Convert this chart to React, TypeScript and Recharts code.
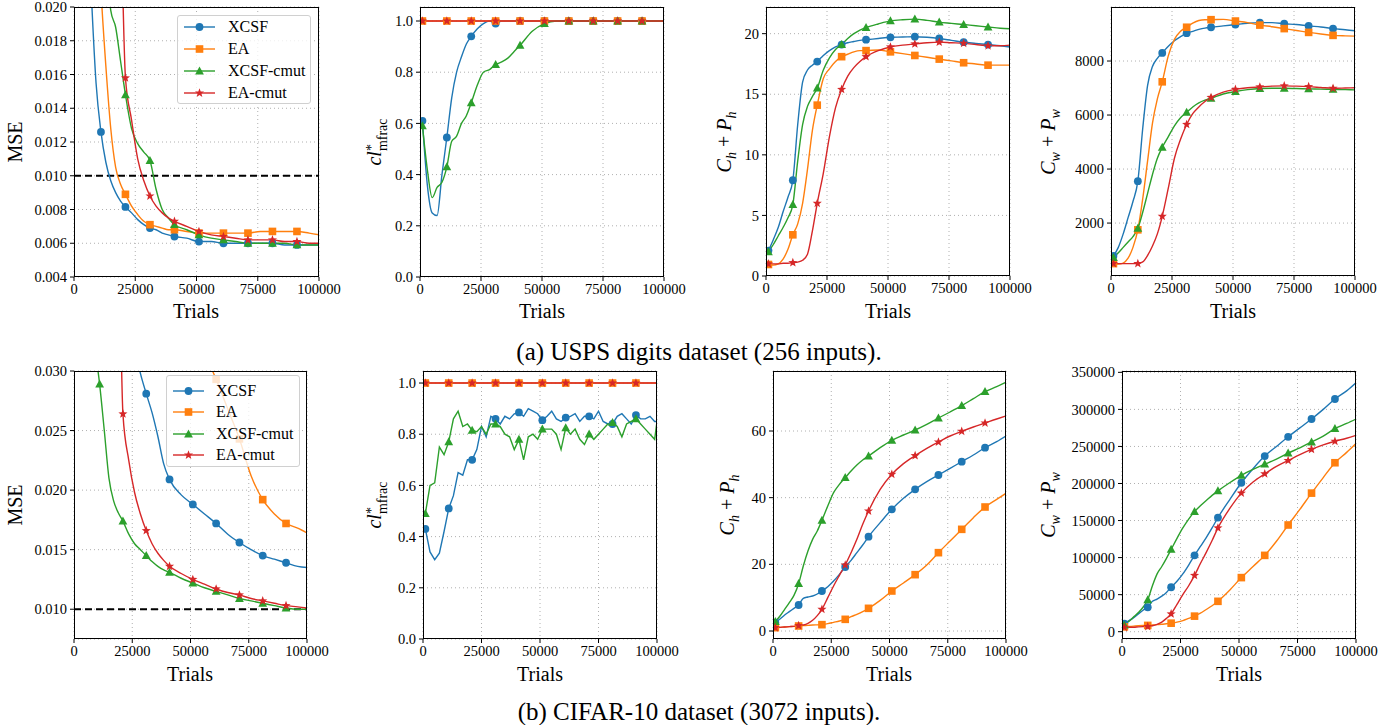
import React from 'react';
import { LineChart, Line, XAxis, YAxis, CartesianGrid, ReferenceLine } from 'recharts';

const SERIF = '"Liberation Serif", "DejaVu Serif", serif';
const C_XCSF = '#1f77b4';
const C_EA = '#ff7f0e';
const C_XCMUT = '#2ca02c';
const C_EACMUT = '#d62728';

// trial grids (x values)
const trials = [1000, 3000, 5000, 7000, 9000, 11000, 13000, 15000, 17000, 19000, 21000, 23500, 26000, 28500, 31000, 33500, 36000, 38500, 41000, 46000, 51000, 56000, 61000, 66000, 71000, 76000, 81000, 86000, 91000, 96000, 100000];
const trialsFine = [1000, 3000, 5000, 7000, 9000, 11000, 13000, 15000, 17000, 19000, 21000, 23000, 25000, 27000, 29000, 31000, 33000, 35000, 37000, 39000, 41000, 43000, 45000, 47000, 49000, 51000, 53000, 55000, 57000, 59000, 61000, 63000, 65000, 67000, 69000, 71000, 73000, 75000, 77000, 79000, 81000, 83000, 85000, 87000, 89000, 91000, 93000, 95000, 97000, 99000, 100000];
const trialsMarked = [1000, 11000, 21000, 31000, 41000, 51000, 61000, 71000, 81000, 91000, 100000];
const markerTrials = [1000, 11000, 21000, 31000, 41000, 51000, 61000, 71000, 81000, 91000];
const xTicks = [0, 25000, 50000, 75000, 100000];

// (a) USPS - MSE
const uspsMseXcsf = [0.06, 0.04, 0.028, 0.021, 0.0155, 0.0126, 0.0108, 0.0097, 0.009, 0.0085, 0.00815, 0.0078, 0.0074, 0.0071, 0.0069, 0.0068, 0.0066, 0.0065, 0.0064, 0.0063, 0.0061, 0.0061, 0.006, 0.006, 0.006, 0.006, 0.006, 0.0059, 0.0059, 0.0059, 0.0059];
const uspsMseEa = [0.08, 0.06, 0.045, 0.035, 0.027, 0.021, 0.0165, 0.0128, 0.0105, 0.0095, 0.0089, 0.0082, 0.0077, 0.0073, 0.0071, 0.007, 0.0069, 0.0068, 0.0068, 0.0067, 0.0066, 0.0066, 0.0066, 0.0066, 0.0066, 0.0067, 0.0067, 0.0067, 0.0067, 0.0066, 0.0065];
const uspsMseXcmut = [0.1, 0.08, 0.06, 0.045, 0.035, 0.028, 0.023, 0.0198, 0.0188, 0.0168, 0.0148, 0.0128, 0.0119, 0.0114, 0.0109, 0.0092, 0.008, 0.0075, 0.0071, 0.0068, 0.0065, 0.0063, 0.0062, 0.0061, 0.006, 0.006, 0.006, 0.006, 0.0059, 0.0059, 0.0059];
const uspsMseEacmut = [0.12, 0.1, 0.08, 0.065, 0.05, 0.04, 0.036, 0.034, 0.032, 0.026, 0.0158, 0.0133, 0.011, 0.0097, 0.0088, 0.0082, 0.0078, 0.0075, 0.0073, 0.007, 0.0067, 0.0065, 0.0064, 0.0063, 0.0062, 0.0062, 0.0062, 0.0061, 0.0061, 0.006, 0.006];

// (a) USPS - cl*_mfrac
const uspsFracXcsf = [0.61, 0.36, 0.25, 0.24, 0.4, 0.545, 0.7, 0.8, 0.86, 0.91, 0.94, 0.97, 0.99, 1.0, 0.99, 1.0, 1.0, 1.0, 1.0, 1.0, 1.0, 1.0, 1.0, 1.0, 1.0, 1.0, 1.0, 1.0, 1.0, 1.0, 1.0];
const uspsFracXcmut = [0.59, 0.42, 0.31, 0.35, 0.37, 0.43, 0.53, 0.55, 0.6, 0.63, 0.68, 0.75, 0.8, 0.81, 0.83, 0.84, 0.855, 0.88, 0.905, 0.96, 0.99, 1.0, 1.0, 1.0, 1.0, 1.0, 1.0, 1.0, 1.0, 1.0, 1.0];
const uspsFracEa = [1.0, 1.0, 1.0, 1.0, 1.0, 1.0, 1.0, 1.0, 1.0, 1.0, 1.0];
const uspsFracEacmut = [1.0, 1.0, 1.0, 1.0, 1.0, 1.0, 1.0, 1.0, 1.0, 1.0, 1.0];

// (a) USPS - C_h + P_h
const uspsHXcsf = [2.1, 3.0, 4.0, 5.3, 6.5, 7.9, 12.5, 16.0, 17.0, 17.4, 17.7, 18.2, 18.6, 18.9, 19.1, 19.25, 19.35, 19.45, 19.5, 19.6, 19.7, 19.72, 19.75, 19.7, 19.6, 19.45, 19.3, 19.2, 19.1, 19.0, 18.9];
const uspsHEa = [0.95, 0.9, 1.0, 1.4, 2.2, 3.4, 4.3, 6.0, 8.8, 12.0, 14.1, 16.3, 17.1, 17.7, 18.1, 18.3, 18.5, 18.6, 18.6, 18.65, 18.5, 18.35, 18.2, 18.05, 17.9, 17.75, 17.6, 17.5, 17.4, 17.4, 17.4];
const uspsHXcmut = [2.0, 2.6, 3.3, 4.0, 4.8, 5.9, 9.5, 12.5, 14.0, 14.8, 15.5, 17.0, 18.0, 18.7, 19.1, 19.6, 20.0, 20.3, 20.5, 20.8, 21.05, 21.15, 21.2, 21.1, 20.95, 20.85, 20.75, 20.65, 20.55, 20.45, 20.4];
const uspsHEacmut = [1.0, 1.0, 1.0, 1.05, 1.05, 1.1, 1.15, 1.3, 1.8, 3.7, 6.0, 8.5, 11.5, 13.9, 15.4, 16.5, 17.2, 17.7, 18.1, 18.6, 18.9, 19.05, 19.15, 19.25, 19.3, 19.25, 19.2, 19.1, 19.0, 19.0, 19.05];

// (a) USPS - C_w + P_w
const uspsWXcsf = [780, 1100, 1600, 2200, 2800, 3550, 5500, 7100, 7800, 8100, 8300, 8550, 8750, 8900, 9030, 9100, 9170, 9220, 9250, 9300, 9350, 9400, 9420, 9420, 9380, 9350, 9300, 9260, 9200, 9160, 9120];
const uspsWEa = [500, 480, 520, 700, 1100, 1750, 2900, 4300, 5700, 6600, 7230, 8200, 8800, 9100, 9250, 9400, 9500, 9530, 9530, 9540, 9480, 9420, 9330, 9270, 9200, 9130, 9060, 9000, 8950, 8930, 8920];
const uspsWXcmut = [720, 900, 1100, 1300, 1500, 1800, 2400, 3100, 3800, 4400, 4800, 5200, 5600, 5900, 6100, 6300, 6450, 6550, 6620, 6780, 6870, 6940, 6980, 6990, 6990, 6980, 6970, 6960, 6950, 6940, 6930];
const uspsWEacmut = [500, 500, 500, 500, 500, 500, 560, 800, 1150, 1600, 2250, 3300, 4400, 5100, 5650, 6050, 6300, 6500, 6650, 6850, 6950, 7010, 7040, 7070, 7080, 7070, 7050, 7020, 6990, 7000, 7010];

// (b) CIFAR-10 - MSE
const cifarMseXcsf = [0.09, 0.08, 0.07, 0.062, 0.055, 0.05, 0.046, 0.043, 0.04, 0.038, 0.036, 0.034, 0.032, 0.0298, 0.0281, 0.0265, 0.0245, 0.0222, 0.0209, 0.0196, 0.0188, 0.018, 0.0172, 0.0163, 0.0156, 0.015, 0.0145, 0.0142, 0.0139, 0.0136, 0.0135];
const cifarMseEa = [0.12, 0.11, 0.1, 0.095, 0.09, 0.085, 0.08, 0.075, 0.07, 0.066, 0.062, 0.057, 0.053, 0.05, 0.047, 0.044, 0.042, 0.04, 0.038, 0.035, 0.0335, 0.0315, 0.0293, 0.0268, 0.0243, 0.0212, 0.0192, 0.018, 0.0172, 0.0168, 0.0164];
const cifarMseXcmut = [0.06, 0.05, 0.042, 0.036, 0.032, 0.0289, 0.025, 0.021, 0.0191, 0.0181, 0.0174, 0.0163, 0.0155, 0.015, 0.0145, 0.014, 0.0136, 0.0133, 0.0131, 0.0126, 0.0122, 0.0118, 0.0115, 0.0112, 0.0109, 0.0107, 0.0105, 0.0103, 0.0101, 0.01, 0.01];
const cifarMseEacmut = [0.15, 0.13, 0.11, 0.09, 0.075, 0.068, 0.064, 0.062, 0.06, 0.045, 0.0264, 0.0225, 0.0198, 0.018, 0.0166, 0.0155, 0.0147, 0.0141, 0.0136, 0.013, 0.0125, 0.0121, 0.0117, 0.0114, 0.0112, 0.0109, 0.0107, 0.0105, 0.0103, 0.0102, 0.0101];

// (b) CIFAR-10 - cl*_mfrac
const cifarFracXcsf = [0.43, 0.34, 0.31, 0.335, 0.42, 0.51, 0.56, 0.65, 0.64, 0.7, 0.7, 0.74, 0.83, 0.79, 0.87, 0.86, 0.84, 0.87, 0.86, 0.88, 0.885, 0.87, 0.9, 0.89, 0.88, 0.855, 0.87, 0.89, 0.86, 0.85, 0.865, 0.87, 0.88, 0.85, 0.87, 0.87, 0.86, 0.89, 0.85, 0.84, 0.84, 0.87, 0.88, 0.86, 0.84, 0.875, 0.86, 0.86, 0.87, 0.85, 0.85];
const cifarFracXcmut = [0.49, 0.6, 0.61, 0.75, 0.72, 0.77, 0.86, 0.89, 0.83, 0.84, 0.815, 0.81, 0.83, 0.8, 0.84, 0.84, 0.83, 0.8, 0.79, 0.74, 0.78, 0.7, 0.79, 0.8, 0.78, 0.82, 0.82, 0.82, 0.8, 0.74, 0.825, 0.8, 0.82, 0.78, 0.76, 0.8, 0.78, 0.8, 0.82, 0.84, 0.845, 0.83, 0.79, 0.84, 0.85, 0.86, 0.84, 0.82, 0.8, 0.78, 0.85];
const cifarFracEa = [1.0, 1.0, 1.0, 1.0, 1.0, 1.0, 1.0, 1.0, 1.0, 1.0, 1.0];
const cifarFracEacmut = [1.0, 1.0, 1.0, 1.0, 1.0, 1.0, 1.0, 1.0, 1.0, 1.0, 1.0];

// (b) CIFAR-10 - C_h + P_h
const cifarHXcsf = [2.5, 3.6, 4.8, 5.8, 6.8, 7.8, 9.8, 10.2, 10.5, 11.1, 12.0, 13.3, 15.0, 17.0, 19.2, 21.2, 23.5, 25.8, 28.3, 32.5, 36.5, 39.8, 42.5, 44.8, 46.8, 48.8, 50.8, 52.8, 55.0, 56.8, 58.5];
const cifarHEa = [1.0, 1.1, 1.2, 1.3, 1.4, 1.5, 1.6, 1.7, 1.8, 1.85, 1.9, 2.2, 2.6, 3.0, 3.5, 4.3, 5.0, 5.8, 6.8, 9.2, 12.0, 14.4, 16.9, 19.8, 23.5, 27.0, 30.5, 34.0, 37.2, 39.5, 41.3];
const cifarHXcmut = [2.8, 4.5, 6.5, 8.5, 10.7, 14.2, 19.5, 24.0, 27.5, 30.0, 33.2, 37.5, 41.5, 44.0, 46.0, 48.0, 49.8, 51.3, 52.5, 55.0, 57.2, 58.8, 60.3, 62.0, 63.9, 65.7, 67.6, 69.7, 71.8, 73.3, 74.6];
const cifarHEacmut = [1.0, 1.1, 1.2, 1.3, 1.4, 1.6, 1.8, 2.3, 3.2, 4.6, 6.5, 10.0, 13.5, 16.7, 19.8, 23.5, 27.5, 32.0, 36.0, 42.5, 47.0, 50.2, 52.6, 54.8, 56.7, 58.5, 59.9, 61.2, 62.4, 63.6, 64.5];

// (b) CIFAR-10 - C_w + P_w
const cifarWXcsf = [11000, 15000, 19000, 24000, 29000, 33000, 41000, 44000, 48000, 53000, 60000, 68000, 78000, 90000, 103000, 115000, 127000, 140000, 154000, 178000, 201000, 220000, 237000, 250000, 263000, 275000, 287000, 300000, 314000, 325000, 336000];
const cifarWEa = [6500, 7000, 7500, 8000, 8300, 8500, 9000, 9500, 10000, 10800, 11500, 13000, 15000, 18000, 21000, 25000, 30000, 35000, 41000, 56000, 73000, 88000, 103000, 122000, 144000, 165000, 187000, 208000, 228000, 242000, 254000];
const cifarWXcmut = [9000, 14000, 20000, 26000, 33000, 43000, 62000, 78000, 88000, 99000, 111000, 126000, 140000, 152000, 162000, 170000, 177000, 184000, 190000, 201000, 211000, 219000, 226000, 233000, 241000, 248000, 256000, 264000, 274000, 281000, 287000];
const cifarWEacmut = [6000, 6000, 6000, 6500, 6800, 7000, 8000, 10000, 13000, 18000, 24000, 37000, 50000, 62000, 76000, 92000, 107000, 123000, 140000, 166000, 187000, 202000, 213000, 223000, 231000, 239000, 246000, 252000, 257000, 261000, 265000];

type Shape = 'circle' | 'square' | 'triangle' | 'star';

interface Series {
  name: string;
  color: string;
  shape: Shape;
  xs: number[];
  ys: number[];
  curve?: 'monotone' | 'linear';
}

const starPath = (cx: number, cy: number, ro: number, ri: number) => {
  const pts: string[] = [];
  for (let i = 0; i < 10; i++) {
    const r = i % 2 === 0 ? ro : ri;
    const a = -Math.PI / 2 + (i * Math.PI) / 5;
    pts.push(`${cx + r * Math.cos(a)},${cy + r * Math.sin(a)}`);
  }
  return pts.join(' ');
};

const Marker = ({ cx, cy, shape, color }: { cx: number; cy: number; shape: Shape; color: string }) => {
  if (shape === 'circle') return <circle cx={cx} cy={cy} r={3.9} fill={color} />;
  if (shape === 'square') return <rect x={cx - 3.8} y={cy - 3.8} width={7.6} height={7.6} fill={color} />;
  if (shape === 'triangle')
    return <polygon points={`${cx},${cy - 4.6} ${cx - 4.4},${cy + 3.4} ${cx + 4.4},${cy + 3.4}`} fill={color} />;
  return <polygon points={starPath(cx, cy, 4.8, 2.0)} fill={color} />;
};

const tickStyle = { fill: '#000', fontSize: 14.5, fontFamily: SERIF };

interface PanelProps {
  x: number;
  y: number;
  w: number;
  h: number;
  domain: [number, number];
  ticks: number[];
  fmt: (v: number) => string;
  series: Series[];
  refY?: number;
}

const Panel = ({ x, y, w, h, domain, ticks, fmt, series, refY }: PanelProps) => {
  const L = 66, T = 12, R = 32, B = 36;
  const makeDot = (s: Series) => (props: any) => {
    const { cx, cy, payload, index } = props;
    const key = `${s.name}-${index}`;
    if (cx == null || cy == null || !markerTrials.includes(payload.t) || payload.v < domain[0] || payload.v > domain[1]) {
      return <g key={key} />;
    }
    return (
      <g key={key}>
        <Marker cx={cx} cy={cy} shape={s.shape} color={s.color} />
      </g>
    );
  };
  return (
    <div style={{ position: 'absolute', left: x - L, top: y - T }}>
      <LineChart width={w + L + R} height={h + T + B} margin={{ top: T, right: R, left: 0, bottom: 0 }}>
        <CartesianGrid stroke="#b0b0b0" strokeDasharray="1 3" />
        <XAxis
          type="number"
          dataKey="t"
          domain={[0, 100000]}
          ticks={xTicks}
          allowDataOverflow
          interval={0}
          height={B}
          axisLine={false}
          tickLine={{ stroke: '#000' }}
          tickSize={4}
          tickMargin={3}
          tick={tickStyle}
        />
        <YAxis
          type="number"
          domain={domain}
          ticks={ticks}
          allowDataOverflow
          interval={0}
          width={L}
          axisLine={false}
          tickLine={{ stroke: '#000' }}
          tickSize={4}
          tickMargin={3}
          tick={tickStyle}
          tickFormatter={fmt}
        />
        {refY !== undefined && <ReferenceLine y={refY} stroke="#000" strokeWidth={2} strokeDasharray="7 4" />}
        {series.map((s) => (
          <Line
            key={s.name}
            data={s.xs.map((t, i) => ({ t, v: s.ys[i] }))}
            dataKey="v"
            type={s.curve ?? 'monotone'}
            stroke={s.color}
            strokeWidth={1.4}
            dot={makeDot(s)}
            activeDot={false}
            isAnimationActive={false}
          />
        ))}
      </LineChart>
      <div
        style={{
          position: 'absolute',
          left: L,
          top: T,
          width: w,
          height: h,
          border: '1px solid #000',
          boxSizing: 'border-box',
          pointerEvents: 'none',
        }}
      />
    </div>
  );
};

const mk = (xs: number[], a: number[], b: number[], c: number[], d: number[], xsEa?: number[], curve?: 'monotone' | 'linear'): Series[] => [
  { name: 'XCSF', color: C_XCSF, shape: 'circle', xs, ys: a, curve },
  { name: 'EA', color: C_EA, shape: 'square', xs: xsEa ?? xs, ys: b, curve },
  { name: 'XCSF-cmut', color: C_XCMUT, shape: 'triangle', xs, ys: c, curve },
  { name: 'EA-cmut', color: C_EACMUT, shape: 'star', xs: xsEa ?? xs, ys: d, curve },
];

const legendItems: { name: string; color: string; shape: Shape }[] = [
  { name: 'XCSF', color: C_XCSF, shape: 'circle' },
  { name: 'EA', color: C_EA, shape: 'square' },
  { name: 'XCSF-cmut', color: C_XCMUT, shape: 'triangle' },
  { name: 'EA-cmut', color: C_EACMUT, shape: 'star' },
];

const LegendBox = ({ left, top, width, height, rowH, padTop, textX }: { left: number; top: number; width: number; height: number; rowH: number; padTop: number; textX: number }) => (
  <div
    style={{
      position: 'absolute',
      left,
      top,
      width,
      height,
      boxSizing: 'border-box',
      border: '1px solid #d0d0d0',
      borderRadius: 3,
      background: 'rgba(255,255,255,0.8)',
      paddingTop: padTop,
      fontFamily: SERIF,
      fontSize: 16,
    }}
  >
    {legendItems.map((it) => (
      <div key={it.name} style={{ position: 'relative', height: rowH }}>
        <svg width={31} height={14} style={{ position: 'absolute', left: 6, top: rowH / 2 - 7 }}>
          <line x1={0} y1={7} x2={31} y2={7} stroke={it.color} strokeWidth={1.4} />
          <Marker cx={15.5} cy={7} shape={it.shape} color={it.color} />
        </svg>
        <span style={{ position: 'absolute', left: textX, top: rowH / 2, transform: 'translateY(-50%)', whiteSpace: 'nowrap', lineHeight: 1 }}>
          {it.name}
        </span>
      </div>
    ))}
  </div>
);

const YLabel = ({ cx, cy, children }: { cx: number; cy: number; children: React.ReactNode }) => (
  <div
    style={{
      position: 'absolute',
      left: cx,
      top: cy,
      transform: 'translate(-50%, -50%) rotate(-90deg)',
      whiteSpace: 'nowrap',
      fontFamily: SERIF,
      fontSize: 20,
      lineHeight: 1,
    }}
  >
    {children}
  </div>
);

const XLabel = ({ cx, cy }: { cx: number; cy: number }) => (
  <div style={{ position: 'absolute', left: cx, top: cy, transform: 'translate(-50%, -50%)', fontFamily: SERIF, fontSize: 20, lineHeight: 1 }}>
    Trials
  </div>
);

const FracLabel = () => (
  <span>
    <i>cl</i>
    <span style={{ display: 'inline-block', verticalAlign: '-0.45em', lineHeight: 0.8, fontSize: '0.7em', textAlign: 'left' }}>
      <span style={{ display: 'block' }}>*</span>
      <span style={{ display: 'block' }}>mfrac</span>
    </span>
  </span>
);

const SumLabel = ({ s }: { s: string }) => (
  <span>
    <i>C</i>
    <sub style={{ fontSize: '0.7em' }}>
      <i>{s}</i>
    </sub>
    {' + '}
    <i>P</i>
    <sub style={{ fontSize: '0.7em' }}>
      <i>{s}</i>
    </sub>
  </span>
);

const f3 = (v: number) => v.toFixed(3);
const f1 = (v: number) => v.toFixed(1);
const f0 = (v: number) => String(v);

const captionStyle: React.CSSProperties = {
  position: 'absolute',
  left: 699,
  transform: 'translate(-50%, -50%)',
  fontFamily: '"Liberation Serif", serif',
  fontSize: 25,
  whiteSpace: 'nowrap',
  lineHeight: 1,
};

const App = () => {
  return (
    <div style={{ position: 'absolute', left: 0, top: 0, width: 1398, height: 725, background: '#fff', overflow: 'hidden' }}>
      {/* row (a) */}
      <Panel x={74} y={7} w={245} h={270} domain={[0.004, 0.02]} ticks={[0.004, 0.006, 0.008, 0.01, 0.012, 0.014, 0.016, 0.018, 0.02]} fmt={f3}
        series={mk(trials, uspsMseXcsf, uspsMseEa, uspsMseXcmut, uspsMseEacmut)} refY={0.01} />
      <Panel x={420} y={7} w={244} h={270} domain={[0, 1.0547]} ticks={[0, 0.2, 0.4, 0.6, 0.8, 1.0]} fmt={f1}
        series={mk(trials, uspsFracXcsf, uspsFracEa, uspsFracXcmut, uspsFracEacmut, trialsMarked)} />
      <Panel x={766} y={7} w={244} h={269} domain={[0, 22.2]} ticks={[0, 5, 10, 15, 20]} fmt={f0}
        series={mk(trials, uspsHXcsf, uspsHEa, uspsHXcmut, uspsHEacmut)} />
      <Panel x={1111} y={7} w={244} h={269} domain={[40, 10000]} ticks={[2000, 4000, 6000, 8000]} fmt={f0}
        series={mk(trials, uspsWXcsf, uspsWEa, uspsWXcmut, uspsWEacmut)} />

      {/* row (b) */}
      <Panel x={74} y={371} w={233} h={268} domain={[0.0075, 0.03]} ticks={[0.01, 0.015, 0.02, 0.025, 0.03]} fmt={f3}
        series={mk(trials, cifarMseXcsf, cifarMseEa, cifarMseXcmut, cifarMseEacmut)} refY={0.01} />
      <Panel x={423} y={371} w={234} h={268} domain={[0, 1.047]} ticks={[0, 0.2, 0.4, 0.6, 0.8, 1.0]} fmt={f1}
        series={mk(trialsFine, cifarFracXcsf, cifarFracEa, cifarFracXcmut, cifarFracEacmut, trialsMarked, 'linear')} />
      <Panel x={773} y={371} w={233} h={268} domain={[-2.4, 78]} ticks={[0, 20, 40, 60]} fmt={f0}
        series={mk(trials, cifarHXcsf, cifarHEa, cifarHXcmut, cifarHEacmut)} />
      <Panel x={1122} y={371} w={234} h={268} domain={[-9850, 351800]} ticks={[0, 50000, 100000, 150000, 200000, 250000, 300000, 350000]} fmt={f0}
        series={mk(trials, cifarWXcsf, cifarWEa, cifarWXcmut, cifarWEacmut)} />

      <LegendBox left={177} top={15} width={134} height={89} rowH={22} padTop={0} textX={50} />
      <LegendBox left={166} top={375} width={134} height={92} rowH={21.5} padTop={4} textX={49} />

      <YLabel cx={15} cy={142}>MSE</YLabel>
      <YLabel cx={376} cy={142}><FracLabel /></YLabel>
      <YLabel cx={726} cy={142}><SumLabel s="h" /></YLabel>
      <YLabel cx={1050} cy={142}><SumLabel s="w" /></YLabel>
      <YLabel cx={15} cy={505}>MSE</YLabel>
      <YLabel cx={376} cy={505}><FracLabel /></YLabel>
      <YLabel cx={729} cy={505}><SumLabel s="h" /></YLabel>
      <YLabel cx={1050} cy={505}><SumLabel s="w" /></YLabel>

      <XLabel cx={196} cy={311} />
      <XLabel cx={542} cy={311} />
      <XLabel cx={888} cy={311} />
      <XLabel cx={1233} cy={311} />
      <XLabel cx={190} cy={674} />
      <XLabel cx={540} cy={674} />
      <XLabel cx={889} cy={674} />
      <XLabel cx={1239} cy={674} />

      <div style={{ ...captionStyle, top: 351 }}>(a) USPS digits dataset (256 inputs).</div>
      <div style={{ ...captionStyle, top: 711 }}>(b) CIFAR-10 dataset (3072 inputs).</div>
    </div>
  );
};

export default App;
